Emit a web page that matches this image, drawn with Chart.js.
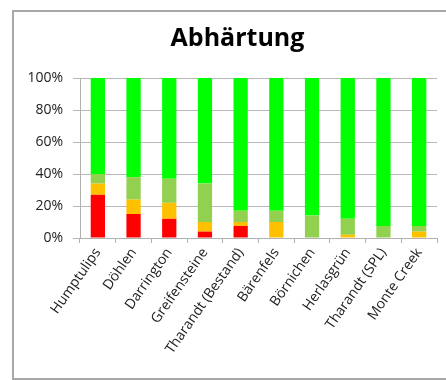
<!DOCTYPE html>
<html>
<head>
<meta charset="utf-8">
<script src="https://cdn.jsdelivr.net/npm/chart.js@4/dist/chart.umd.min.js"></script>
<style>
  html, body { margin: 0; padding: 0; background: #fff; overflow: hidden; }
  #wrap { position: relative; width: 446px; height: 380px; }
  #frame { position: absolute; left: 12px; top: 10px; width: 460px; height: 370px; border: 2px solid #a8a8a8; box-sizing: border-box; }
  canvas { position: absolute; left: 0; top: 0; }
</style>
</head>
<body>
<div id="wrap">
  <div id="frame"></div>
  <canvas id="c" width="446" height="380"></canvas>
</div>
<script>
const categories = ["Humptulips", "Döhlen", "Darrington", "Greifensteine", "Tharandt (Bestand)", "Bärenfels", "Börnichen", "Herlasgrün", "Tharandt (SPL)", "Monte Creek"];
const redValues = [27, 15, 12, 4, 7.5, 0, 0, 0, 0, 0];
const orangeValues = [7, 9, 10, 6, 2.5, 10, 0, 2, 0, 4];
const lightGreenValues = [6, 14, 15, 24, 7, 7, 14, 10, 7.5, 3.5];
const greenValues = [60, 62, 63, 66, 83, 83, 86, 88, 92.5, 92.5];
const yTicks = [0, 20, 40, 60, 80, 100];

const font = "'Open Sans', 'Liberation Sans', sans-serif";
const mk = (data, color) => ({ data, backgroundColor: color, borderWidth: 0, barPercentage: 0.4, categoryPercentage: 1.0 });

const shiftTitle = {
  id: 'shiftTitle',
  afterLayout(chart) {
    const t = chart.titleBlock;
    if (t) { t.left += 7; t.right += 7; }
  }
};

new Chart(document.getElementById('c'), {
  type: 'bar',
  data: {
    labels: categories,
    datasets: [
      mk(redValues, '#FF0000'),
      mk(orangeValues, '#FFC000'),
      mk(lightGreenValues, '#92D050'),
      mk(greenValues, '#00FF00')
    ]
  },
  plugins: [shiftTitle],
  options: {
    responsive: false,
    animation: false,
    layout: { padding: { left: 24, right: 9, top: 0, bottom: 0 } },
    plugins: {
      legend: { display: false },
      tooltip: { enabled: false },
      title: {
        display: true,
        text: 'Abhärtung',
        color: '#000',
        font: { family: font, size: 25, weight: 'bold' },
        padding: { top: 24, bottom: 24 }
      }
    },
    scales: {
      x: {
        stacked: true,
        offset: true,
        afterFit: s => { s.height = 142; },
        grid: { display: true, drawOnChartArea: false, drawTicks: true, tickLength: 5, color: '#b0b0b0', offset: true },
        border: { display: true, color: '#b0b0b0', width: 1 },
        ticks: { color: '#222', font: { family: font, size: 14 }, minRotation: 55, maxRotation: 55, autoSkip: false, padding: 2 }
      },
      y: {
        stacked: true,
        min: 0,
        max: 100,
        afterFit: s => { s.width = 56; },
        afterBuildTicks: s => { s.ticks = yTicks.map(v => ({ value: v })); },
        grid: { color: '#b8b8b8', drawTicks: true, tickLength: 7 },
        border: { display: true, color: '#b0b0b0', width: 1 },
        ticks: { color: '#222', font: { family: font, size: 14 }, padding: 10, callback: v => v + '%' }
      }
    }
  }
});
</script>
</body>
</html>
